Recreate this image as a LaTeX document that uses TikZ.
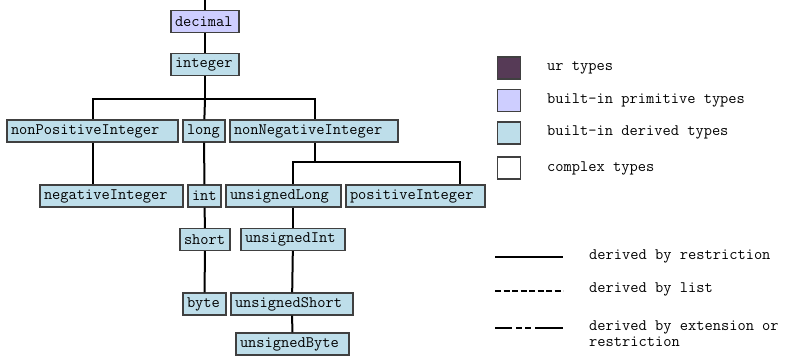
\documentclass[tikz,border=0pt]{standalone}
\usepackage{fontspec}
\usepackage{tikz}
\usetikzlibrary{positioning,calc}
\definecolor{primfill}{RGB}{206,206,255}
\definecolor{derfill}{RGB}{190,222,234}
\definecolor{urfill}{RGB}{86,58,86}
\definecolor{boxline}{RGB}{64,64,64}
\newcommand{\typefont}{\ttfamily\fontsize{16}{16}\selectfont}
\tikzset{
  derbox/.style={draw=boxline, line width=1.2pt, fill=derfill,
    inner xsep=4pt, inner ysep=0pt, minimum height=22pt,
    text width=#1, align=left, font=\typefont},
  primbox/.style={derbox=#1, fill=primfill},
  keybox/.style={draw=boxline, line width=1.2pt, minimum width=23pt,
    minimum height=22pt, inner sep=0pt},
  keytext/.style={anchor=west, font=\typefont, inner sep=0pt},
  restr/.style={line width=2pt},
}

\begin{document}
\begin{tikzpicture}[x=1pt, y=-1pt]
  \useasboundingbox (0,0) rectangle (789,357);

  % type hierarchy
  \node[primbox=60pt] (decimal) at (205,21.5) {decimal};
  \node[derbox=60pt] (integer) at (205,64.5) {integer};
  \node[derbox=163pt] (nonpos) at (92.5,131) {nonPositiveInteger};
  \node[derbox=34pt] (long) at (204,131) {long};
  \node[derbox=160pt] (nonneg) at (314,131) {nonNegativeInteger};
  \node[derbox=135pt] (neg) at (111.5,196) {negativeInteger};
  \node[derbox=25pt] (int) at (204.5,196) {int};
  \node[derbox=107pt] (ulong) at (283.5,196) {unsignedLong};
  \node[derbox=131pt] (pos) at (415.5,196) {positiveInteger};
  \node[derbox=42pt] (short) at (205,239.5) {short};
  \node[derbox=96pt] (uint) at (293,239.5) {unsignedInt};
  \node[derbox=35pt] (byte) at (204.5,304) {byte};
  \node[derbox=114pt] (ushort) at (292,304) {unsignedShort};
  \node[derbox=105pt] (ubyte) at (292.5,344) {unsignedByte};

  \coordinate (root) at (205,0);
  \coordinate (bar1) at (205,99);
  \coordinate (bar2) at (315,162);

  \draw[restr] (root) -- (decimal);
  \draw[restr] (decimal) -- (integer);
  \draw[restr] (integer) -- (bar1);
  \draw[restr] (bar1) -| ([xshift=0.5pt]nonpos.north);
  \draw[restr] (bar1) -| ([xshift=1pt]nonneg.north);
  \draw[restr] (bar1) -- (long);
  \draw[restr] ([xshift=0.5pt]nonpos.south) -- ([xshift=0.5pt]nonpos.south |- neg.north);
  \draw[restr] (long) -- (int);
  \draw[restr] (int) -- (short);
  \draw[restr] (short) -- (byte);
  \draw[restr] ([xshift=1pt]nonneg.south) -- (bar2);
  \draw[restr] (bar2) -| ([xshift=9pt]ulong.north);
  \draw[restr] (bar2) -| ([xshift=44pt]pos.north);
  \draw[restr] ([xshift=9pt]ulong.south) -- ([xshift=9pt]ulong.south |- uint.north);
  \draw[restr] (uint) -- (ushort);
  \draw[restr] (ushort) -- (ubyte);

  % Legend
  \node[keybox, fill=urfill] (kur) at (509,68) {};
  \node[keybox, fill=primfill] (kprim) at (509,100.5) {};
  \node[keybox, fill=derfill] (kder) at (509,133) {};
  \node[keybox, fill=white] (kcomp) at (509,168) {};
  \node[keytext] (tur) at (547,68) {ur types};
  \node[keytext] (tprim) at (547,100) {built-in primitive types};
  \node[keytext] (tder) at (547,132) {built-in derived types};
  \node[keytext] (tcomp) at (547,168) {complex types};

  \coordinate (l1a) at (495,257);
  \coordinate (l1b) at (563,257);
  \coordinate (l2a) at (495,291);
  \coordinate (l2b) at (563,291);
  \coordinate (l3a) at (495,328);
  \coordinate (l3b) at (563,328);
  \draw[restr] (l1a) -- (l1b);
  \draw[restr, dash pattern=on 6pt off 2.5pt] (l2a) -- (l2b);
  \draw[restr, dash pattern=on 17pt off 4pt on 6pt off 3pt on 6pt off 4pt on 40pt] (l3a) -- (l3b);
  \node[keytext] (trestr) at (589,256) {derived by restriction};
  \node[keytext] (tlist) at (589,289) {derived by list};
  \node[keytext, align=left] (text) at (589,334) {derived by extension or\\restriction};
\end{tikzpicture}
\end{document}
